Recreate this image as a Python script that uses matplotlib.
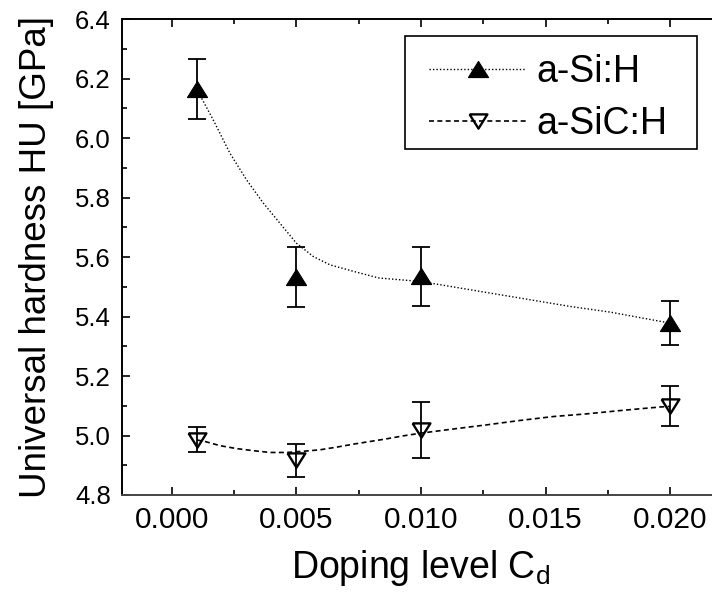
import matplotlib
matplotlib.use("Agg")
import matplotlib.pyplot as plt
from matplotlib.lines import Line2D
from matplotlib.patches import Rectangle
from matplotlib.ticker import MultipleLocator

plt.rcParams['font.family'] = ['Liberation Sans', 'DejaVu Sans']

# measured points
doping = [0.001, 0.005, 0.010, 0.020]
si_h = [6.165, 5.533, 5.535, 5.378]
si_h_err = [0.100, 0.100, 0.100, 0.073]
sic_h = [4.985, 4.916, 5.018, 5.098]
sic_h_err = [0.042, 0.054, 0.094, 0.067]

# smoothed guide lines
si_curve_x = [0.0010, 0.00113, 0.00166, 0.00233, 0.0030, 0.00367, 0.00434, 0.0050,
              0.00568, 0.00635, 0.0073, 0.0083, 0.0100, 0.0120, 0.0140, 0.0160,
              0.0176, 0.0200]
si_curve_y = [6.165, 6.145, 6.062, 5.950, 5.860, 5.782, 5.714, 5.647,
              5.602, 5.574, 5.552, 5.530, 5.518, 5.490, 5.462, 5.434,
              5.415, 5.378]
sic_curve_x = [0.0010, 0.00133, 0.00193, 0.0026, 0.00327, 0.00394, 0.00461, 0.00528,
               0.00595, 0.00662, 0.00729, 0.00796, 0.00863, 0.0093, 0.0100, 0.0113,
               0.01265, 0.0140, 0.01533, 0.01667, 0.0180, 0.0196, 0.0200]
sic_curve_y = [4.985, 4.980, 4.966, 4.956, 4.949, 4.943, 4.943, 4.947,
               4.952, 4.961, 4.971, 4.980, 4.989, 4.999, 5.008, 5.022,
               5.036, 5.051, 5.064, 5.073, 5.084, 5.096, 5.098]

tri_up = [(-1, -0.8), (1, -0.8), (0, 0.8), (-1, -0.8)]
tri_down = [(-1, 0.8), (1, 0.8), (0, -0.8), (-1, 0.8)]

fig = plt.figure(figsize=(7.12, 6.01), dpi=100)
ax = fig.add_axes([0.1713, 0.1764, 0.8399, 0.7915])

ax.plot(si_curve_x, si_curve_y, color='black', lw=1.0, ls=(0, (1, 1.5)), zorder=2)
ax.plot(sic_curve_x, sic_curve_y, color='black', lw=1.2, ls=(0, (3, 2)), zorder=2)

ax.errorbar(doping, si_h, yerr=si_h_err, fmt='none', ecolor='black',
            elinewidth=1.3, capsize=6.8, capthick=1.3, zorder=3)
ax.errorbar(doping, sic_h, yerr=sic_h_err, fmt='none', ecolor='black',
            elinewidth=1.3, capsize=6.8, capthick=1.3, zorder=3)

ax.plot(doping, si_h, ls='none', marker=tri_up, ms=14.5, mfc='black',
        mec='black', mew=0.8, zorder=4)
ax.plot(doping, sic_h, ls='none', marker=tri_down, ms=12.8, mfc='none',
        mec='black', mew=1.7, zorder=4)

ax.set_xlim(-0.002, 0.022)
ax.set_ylim(4.8, 6.4)
ax.xaxis.set_major_locator(MultipleLocator(0.005))
ax.xaxis.set_minor_locator(MultipleLocator(0.0025))
ax.yaxis.set_major_locator(MultipleLocator(0.2))
ax.yaxis.set_minor_locator(MultipleLocator(0.1))
ax.xaxis.set_major_formatter(plt.FuncFormatter(lambda v, p: f"{v:.3f}"))
ax.yaxis.set_major_formatter(plt.FuncFormatter(lambda v, p: f"{v:.1f}"))

ax.tick_params(which='both', direction='in', top=True, right=False, width=1.2)
ax.tick_params(which='major', length=6)
ax.tick_params(which='minor', length=3.3)
ax.tick_params(axis='x', labelsize=21.5, pad=8)
ax.tick_params(axis='y', labelsize=18.5, pad=8)
for side in ['left', 'bottom', 'top']:
    ax.spines[side].set_linewidth(1.4)
ax.spines['bottom'].set_color('#444444')
ax.spines['right'].set_visible(False)

ax.set_xlabel(r"Doping level C$_\mathregular{d}$", fontsize=27, labelpad=10)
ax.set_ylabel("Universal hardness HU [GPa]", fontsize=26.5, labelpad=15)

# legend frame drawn separately so its padding matches the original
ax.add_patch(Rectangle((0.474, 0.7274), 0.488, 0.2381, transform=ax.transAxes,
                       facecolor='white', edgecolor='black', lw=1.2, zorder=5))
handles = [
    Line2D([], [], color='black', lw=1.0, ls=(0, (1, 1.5)), marker=tri_up,
           ms=14.5, mfc='black', mec='black', mew=0.8),
    Line2D([], [], color='black', lw=1.2, ls=(0, (3, 2)), marker=tri_down,
           ms=12.8, mfc='none', mec='black', mew=1.7),
]
leg = ax.legend(handles, ["a-Si:H", "a-SiC:H"], loc='upper left',
                bbox_to_anchor=(0.5134, 0.927), borderaxespad=0, borderpad=0,
                fontsize=27, handlelength=2.6, handletextpad=0.27,
                labelspacing=0.42, frameon=False)
leg.set_zorder(6)

fig.savefig("out.png", dpi=100)
